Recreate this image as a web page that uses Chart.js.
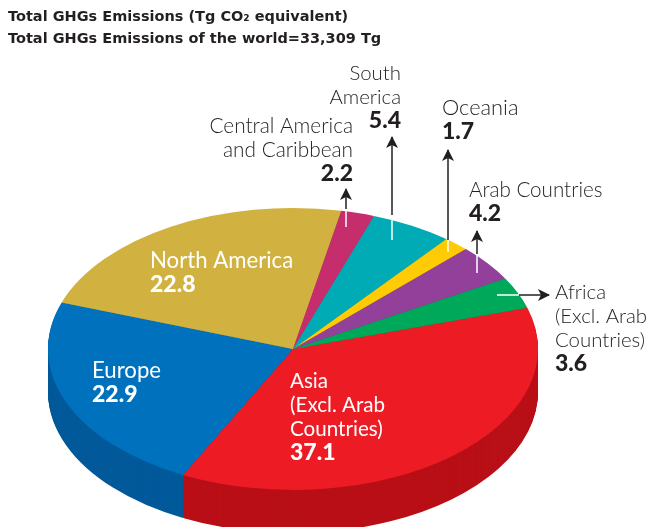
<!DOCTYPE html>
<html>
<head>
<meta charset="utf-8">
<style>
  html, body { margin: 0; padding: 0; background: #fff; }
  canvas { display: block; }
</style>
<script src="https://cdn.jsdelivr.net/npm/chart.js@4/dist/chart.umd.min.js"></script>
</head>
<body>
<canvas id="myChart" width="649" height="527"></canvas>
<script>
const titleLines = [
  'Total GHGs Emissions (Tg CO₂ equivalent)',
  'Total GHGs Emissions of the world=33,309 Tg'
];
const categories = [
  'Asia\n(Excl. Arab\nCountries)',
  'Europe',
  'North America',
  'Central America\nand Caribbean',
  'South\nAmerica',
  'Oceania',
  'Arab Countries',
  'Africa\n(Excl. Arab\nCountries)'
];
const shares = [37.1, 22.9, 22.8, 2.2, 5.4, 1.7, 4.2, 3.6];
const topColors = ['#ed1c24', '#0071bc', '#d1b13f', '#c62d6c', '#00abb5', '#ffcb05', '#92409a', '#00a85a'];
const sideColors = ['#b90f17', '#02599a', '#a08a30', '#96204f', '#008289', '#c79d00', '#6f2f75', '#007f44'];

// pie is squashed into an ellipse, these are the ellipse settings
const pieCenterY = 349;
const squash = 141 / 245;
const depth = 43;

const ink = '#231f20';
const valueFont = '900 23px Lato';

// one entry per category, same order
const labelSpots = [
  { x: 290, y: 388, size: 20.6, color: '#fff' },
  { x: 92, y: 378, size: 22.2, color: '#fff' },
  { x: 150, y: 268, size: 22.2, color: '#fff' },
  { x: 353, y: 133, size: 20.8, align: 'right' },
  { x: 401, y: 80, size: 20.4, align: 'right' },
  { x: 442, y: 115, size: 21.8 },
  { x: 469, y: 197, size: 20.6 },
  { x: 555, y: 299, size: 20.4 }
];

// leader arrows, white inside the slice and dark outside
const arrows = [
  { x1: 346, y1: 227, x2: 346, y2: 209, x3: 346, y3: 189 },
  { x1: 392, y1: 240, x2: 392, y2: 215, x3: 392, y3: 137 },
  { x1: 448, y1: 252, x2: 448, y2: 240, x3: 448, y3: 150 },
  { x1: 477, y1: 273, x2: 477, y2: 254, x3: 477, y3: 231 },
  { x1: 497, y1: 295, x2: 519, y2: 295, x3: 549, y3: 295 }
];

function squashPie(chart, ctx, shiftY) {
  const arc = chart.getDatasetMeta(0).data[0];
  ctx.translate(0, pieCenterY + shiftY);
  ctx.scale(1, squash);
  ctx.translate(0, -arc.y);
}

const pie3d = {
  id: 'pie3d',
  beforeDatasetsDraw(chart) {
    const ctx = chart.ctx;
    const arcs = chart.getDatasetMeta(0).data;
    // side wall: the same arcs again, darker, stepping down
    for (let d = depth; d >= 1; d--) {
      ctx.save();
      squashPie(chart, ctx, d);
      arcs.forEach((arc, i) => {
        const keep = arc.options;
        arc.options = Object.assign({}, keep, { backgroundColor: sideColors[i] });
        arc.draw(ctx);
        arc.options = keep;
      });
      ctx.restore();
    }
    ctx.save();
    squashPie(chart, ctx, 0);
  },
  afterDatasetsDraw(chart) {
    chart.ctx.restore();
  }
};

function drawArrow(ctx, a) {
  ctx.lineWidth = 1.5;
  ctx.strokeStyle = '#fff';
  ctx.beginPath();
  ctx.moveTo(a.x1, a.y1);
  ctx.lineTo(a.x2, a.y2);
  ctx.stroke();
  ctx.strokeStyle = ink;
  ctx.beginPath();
  ctx.moveTo(a.x2, a.y2);
  ctx.lineTo(a.x3, a.y3);
  ctx.stroke();
  const ang = Math.atan2(a.y3 - a.y2, a.x3 - a.x2);
  ctx.save();
  ctx.translate(a.x3, a.y3);
  ctx.rotate(ang);
  ctx.fillStyle = ink;
  ctx.beginPath();
  ctx.moveTo(1, 0);
  ctx.lineTo(-11, -6);
  ctx.lineTo(-8, 0);
  ctx.lineTo(-11, 6);
  ctx.closePath();
  ctx.fill();
  ctx.restore();
}

const pieText = {
  id: 'pieText',
  afterDraw(chart) {
    const ctx = chart.ctx;
    ctx.save();
    arrows.forEach(a => drawArrow(ctx, a));
    ctx.textBaseline = 'alphabetic';

    ctx.fillStyle = ink;
    ctx.font = 'bold 14.5px "DejaVu Sans"';
    ctx.textAlign = 'left';
    ctx.fillText(titleLines[0], 8, 21);
    ctx.fillText(titleLines[1], 8, 43);

    categories.forEach((name, i) => {
      const spot = labelSpots[i];
      ctx.fillStyle = spot.color || ink;
      ctx.textAlign = spot.align || 'left';
      ctx.font = (spot.color ? '400 ' : '300 ') + spot.size + 'px Lato';
      const lines = name.split('\n');
      lines.forEach((line, n) => ctx.fillText(line, spot.x, spot.y + n * 24));
      ctx.font = valueFont;
      ctx.fillText(shares[i].toFixed(1), spot.x, spot.y + lines.length * 24);
    });
    ctx.restore();
  }
};

new Chart(document.getElementById('myChart'), {
  type: 'pie',
  data: {
    labels: categories,
    datasets: [{
      data: shares,
      backgroundColor: topColors,
      borderWidth: 0,
      clip: false
    }]
  },
  options: {
    responsive: false,
    animation: false,
    rotation: 73,
    layout: { padding: { left: 48, right: 111, top: 18, bottom: 19 } },
    plugins: {
      legend: { display: false },
      tooltip: { enabled: false }
    }
  },
  plugins: [pie3d, pieText]
});
</script>
</body>
</html>
